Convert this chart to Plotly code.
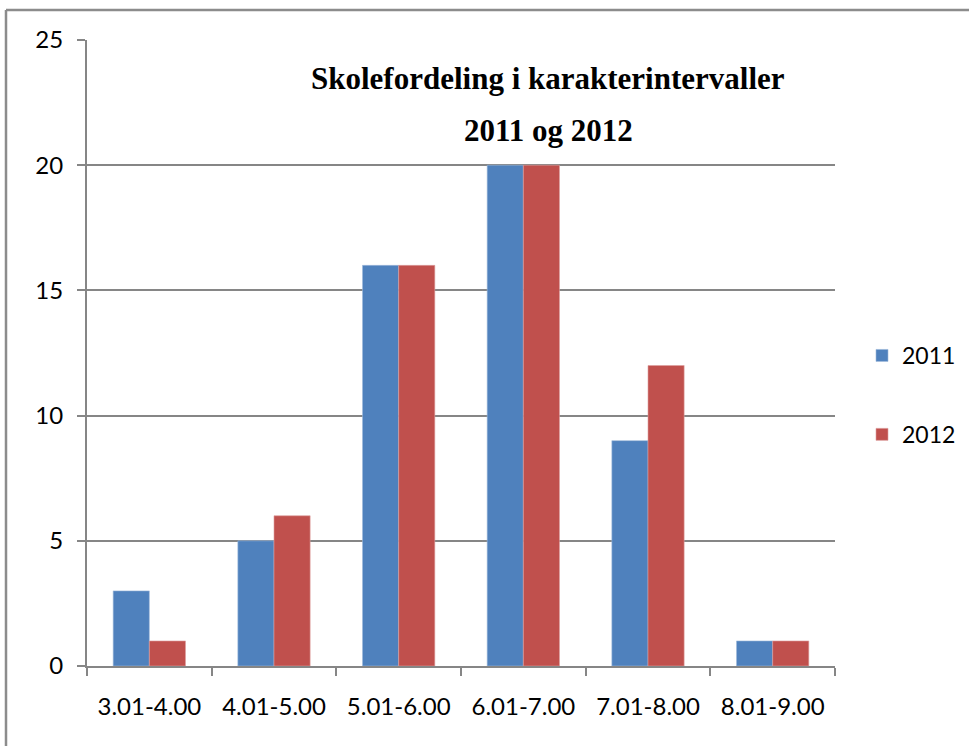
import plotly.graph_objects as go

categories = ["3.01-4.00", "4.01-5.00", "5.01-6.00", "6.01-7.00", "7.01-8.00", "8.01-9.00"]
values_2011 = [3, 5, 16, 20, 9, 1]
values_2012 = [1, 6, 16, 20, 12, 1]
series_names = ["2011", "2012"]
title_lines = ["Skolefordeling i karakterintervaller", "2011 og 2012"]

W, H = 969, 746
L, R, T, B = 87, 134, 40, 80
pw, ph = W - L - R, H - T - B

def px_x(x):
    return (x - L) / pw

def px_y(y):
    return (H - B - y) / ph

fig = go.Figure()
fig.add_trace(go.Bar(x=categories, y=values_2011, name=series_names[0],
                     marker=dict(color="#4F81BD", line=dict(color="#9DB8DA", width=0.6)),
                     legendgroup="a"))
fig.add_trace(go.Bar(x=categories, y=values_2012, name=series_names[1],
                     marker=dict(color="#C0504D", line=dict(color="#DDA09F", width=0.6)),
                     legendgroup="b"))

grid = "#868686"
fig.update_layout(
    width=W, height=H,
    margin=dict(l=L, r=R, t=T, b=B, autoexpand=False),
    paper_bgcolor="white", plot_bgcolor="white",
    barmode="group", bargap=0.42, bargroupgap=0,
    font=dict(family="Lato, Carlito, sans-serif", size=24, color="black"),
    showlegend=True,
    legend=dict(xref="container", yref="container", x=862 / W, y=(H - 395) / H,
                xanchor="left", yanchor="middle",
                font=dict(size=23), tracegroupgap=46, traceorder="grouped",
                itemwidth=30, bgcolor="rgba(0,0,0,0)"),
    xaxis=dict(type="category", tickson="boundaries", ticks="outside", ticklen=8,
               tickcolor=grid, tickwidth=2, showline=True, linecolor=grid, linewidth=2,
               showgrid=False, ticklabelstandoff=18),
    yaxis=dict(range=[0, 25], dtick=5, ticks="outside", ticklen=8, tickcolor=grid,
               tickwidth=2, showline=True, linecolor=grid, linewidth=2,
               showgrid=True, gridcolor=grid, gridwidth=1.5, zeroline=False,
               ticklabelstandoff=9),
)

for line_text, ypix in zip(title_lines, [78, 130]):
    fig.add_annotation(text="<b>" + line_text + "</b>", xref="paper", yref="paper",
                       x=px_x(548), y=px_y(ypix), xanchor="center", yanchor="middle",
                       showarrow=False,
                       font=dict(family="Liberation Serif, Times New Roman, serif", size=31, color="black"))

# outer frame
fig.add_shape(type="line", xref="paper", yref="paper", x0=px_x(6), x1=px_x(975),
              y0=px_y(10), y1=px_y(10), line=dict(color="#8c8c8c", width=2.5))
fig.add_shape(type="line", xref="paper", yref="paper", x0=px_x(6), x1=px_x(6),
              y0=px_y(10), y1=px_y(760), line=dict(color="#8c8c8c", width=2.5))

fig.write_html("out.html", config={"displayModeBar": False},
               post_script="document.body.style.margin='0';document.body.style.overflow='hidden';")
